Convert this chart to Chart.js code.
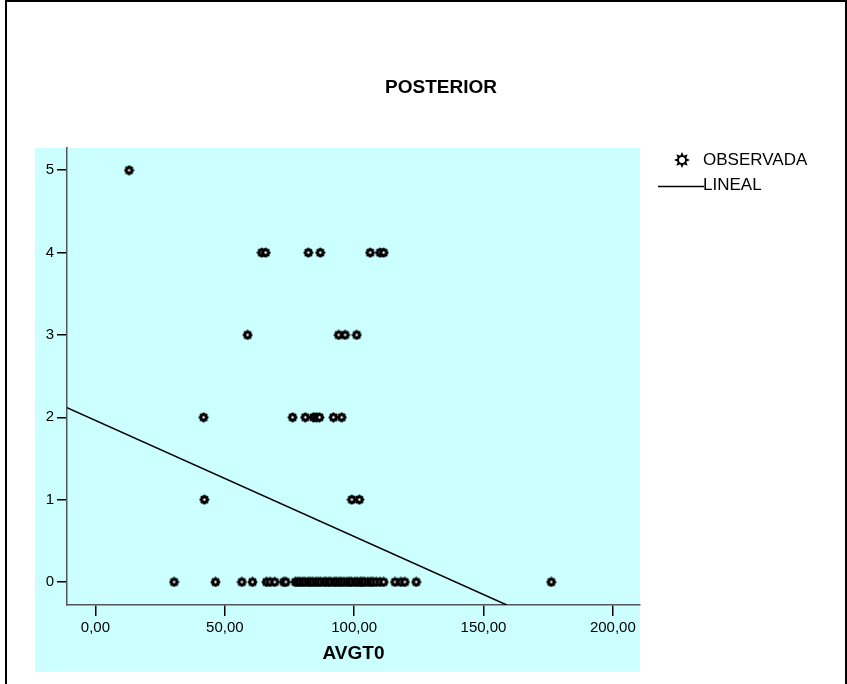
<!DOCTYPE html>
<html>
<head>
<meta charset="utf-8">
<script src="https://cdn.jsdelivr.net/npm/chart.js@4.4.1/dist/chart.umd.min.js"></script>
<style>
  body { margin: 0; background: #fff; }
  canvas { display: block; }
</style>
</head>
<body>
<canvas id="grafico" width="847" height="684"></canvas>
<script>
// valores POSTERIOR observados y sus AVGT0
const posteriorLevels = [0, 1, 2, 3, 4, 5];
const avgtByLevel = [
  [30.4, 46.4, 56.6, 60.7, 66.1, 67.5, 69.3, 72.8, 73.6, 77.3, 78.2, 79.0, 80.1,
   81.0, 82.2, 83.1, 84.0, 85.2, 86.1, 87.0, 88.3, 89.1, 90.2, 91.0, 92.3, 93.1,
   94.2, 95.0, 96.1, 97.3, 98.2, 99.0, 100.3, 101.2, 102.4, 103.1, 104.0, 105.3,
   106.4, 107.2, 108.5, 110.0, 111.4, 115.8, 118.1, 119.6, 124.0, 176.2],
  [42.1, 99.1, 102.0],
  [41.8, 76.2, 81.1, 84.3, 85.4, 86.6, 92.0, 95.2],
  [58.8, 94.0, 96.5, 101.0],
  [64.3, 65.8, 82.3, 86.9, 106.2, 110.0, 111.4],
  [13.0]
];
// recta LINEAL (extremos)
const linealX = [-11, 159];
const linealY = [2.115, -0.28];
const xTicks = [0, 50, 100, 150, 200];
const yTicks = [0, 1, 2, 3, 4, 5];

const observada = [];
posteriorLevels.forEach((lv, i) => {
  avgtByLevel[i].forEach((v) => observada.push({ x: v, y: lv }));
});
const lineal = linealX.map((x, i) => ({ x: x, y: linealY[i] }));

// marcador tipo "engranaje"
function marcador() {
  const c = document.createElement("canvas");
  c.width = 11;
  c.height = 11;
  const g = c.getContext("2d");
  g.fillStyle = "#000";
  for (let k = 0; k < 8; k++) {
    const a = (k * Math.PI) / 4;
    g.beginPath();
    g.arc(5.5 + Math.cos(a) * 3.4, 5.5 + Math.sin(a) * 3.4, 1.6, 0, Math.PI * 2);
    g.fill();
  }
  g.beginPath();
  g.arc(5.5, 5.5, 3.6, 0, Math.PI * 2);
  g.fill();
  g.fillStyle = "#fff";
  g.beginPath();
  g.arc(5.5, 5.5, 1.2, 0, Math.PI * 2);
  g.fill();
  return c;
}

const fondo = {
  id: "fondo",
  beforeDraw(chart) {
    const ctx = chart.ctx;
    ctx.save();
    ctx.fillStyle = "#fff";
    ctx.fillRect(0, 0, 847, 684);
    ctx.fillStyle = "#CCFFFF";
    ctx.fillRect(35, 148, 605, 524);
    ctx.strokeStyle = "#000";
    ctx.lineWidth = 2;
    ctx.strokeRect(6, 1, 840, 700);
    ctx.fillStyle = "#000";
    ctx.font = "bold 19px 'Liberation Sans', Arial, sans-serif";
    ctx.textAlign = "center";
    ctx.textBaseline = "middle";
    ctx.fillText("POSTERIOR", 441, 88);
    ctx.restore();
  },
  afterDraw(chart) {
    const ctx = chart.ctx;
    ctx.save();
    ctx.fillStyle = "#000";
    ctx.font = "17px 'Liberation Sans', Arial, sans-serif";
    ctx.textAlign = "left";
    ctx.textBaseline = "middle";
    // estrella de la leyenda
    const cx = 682, cy = 160;
    ctx.beginPath();
    for (let k = 0; k < 16; k++) {
      const r = k % 2 === 0 ? 8 : 4.6;
      const a = (k * Math.PI) / 8 - Math.PI / 2;
      const px = cx + Math.cos(a) * r, py = cy + Math.sin(a) * r;
      if (k === 0) ctx.moveTo(px, py); else ctx.lineTo(px, py);
    }
    ctx.closePath();
    ctx.fill();
    ctx.fillStyle = "#fff";
    ctx.beginPath();
    ctx.arc(cx, cy, 3, 0, Math.PI * 2);
    ctx.fill();
    ctx.fillStyle = "#000";
    ctx.fillText(chart.data.datasets[0].label, 703, 160);
    ctx.strokeStyle = "#000";
    ctx.lineWidth = 1.5;
    ctx.beginPath();
    ctx.moveTo(658, 186.5);
    ctx.lineTo(704, 186.5);
    ctx.stroke();
    ctx.fillText(chart.data.datasets[1].label, 703, 185);
    ctx.restore();
  },
};

Chart.defaults.font.family = "'Liberation Sans', Arial, sans-serif";
Chart.defaults.color = "#000";

const fmt = (v) => v.toFixed(2).replace(".", ",");

new Chart(document.getElementById("grafico"), {
  type: "scatter",
  data: {
    datasets: [
      {
        label: "OBSERVADA",
        data: observada,
        pointStyle: marcador(),
        pointRadius: 5,
        pointHoverRadius: 5,
      },
      {
        label: "LINEAL",
        type: "line",
        data: lineal,
        borderColor: "#000",
        borderWidth: 1.5,
        pointRadius: 0,
        fill: false,
        showLine: true,
      },
    ],
  },
  options: {
    responsive: false,
    animation: false,
    devicePixelRatio: 1,
    layout: { padding: { top: 148, left: 35, right: 207, bottom: 12 } },
    plugins: { legend: { display: false }, tooltip: { enabled: false } },
    scales: {
      x: {
        type: "linear",
        min: -11,
        max: 210.5,
        afterFit: (s) => { s.height = 67; },
        afterBuildTicks: (s) => { s.ticks = xTicks.map((v) => ({ value: v })); },
        grid: { drawOnChartArea: false, drawTicks: true, tickLength: 11, color: "#000", lineWidth: 1.5 },
        border: { display: true, color: "#555", width: 1.5 },
        ticks: { font: { size: 15 }, padding: 3, maxRotation: 0, callback: (v) => fmt(v) },
        title: { display: true, text: "AVGT0", font: { size: 19, weight: "bold" }, padding: { top: 0, bottom: 7 } },
      },
      y: {
        type: "linear",
        min: -0.28,
        max: 5.27,
        afterFit: (s) => { s.width = 32; },
        afterBuildTicks: (s) => { s.ticks = yTicks.map((v) => ({ value: v })); },
        grid: { drawOnChartArea: false, drawTicks: true, tickLength: 10, color: "#000", lineWidth: 1.5 },
        border: { display: true, color: "#555", width: 1.5 },
        ticks: { font: { size: 15 }, padding: 3, callback: (v) => String(v) },
      },
    },
  },
  plugins: [fondo],
});
</script>
</body>
</html>
